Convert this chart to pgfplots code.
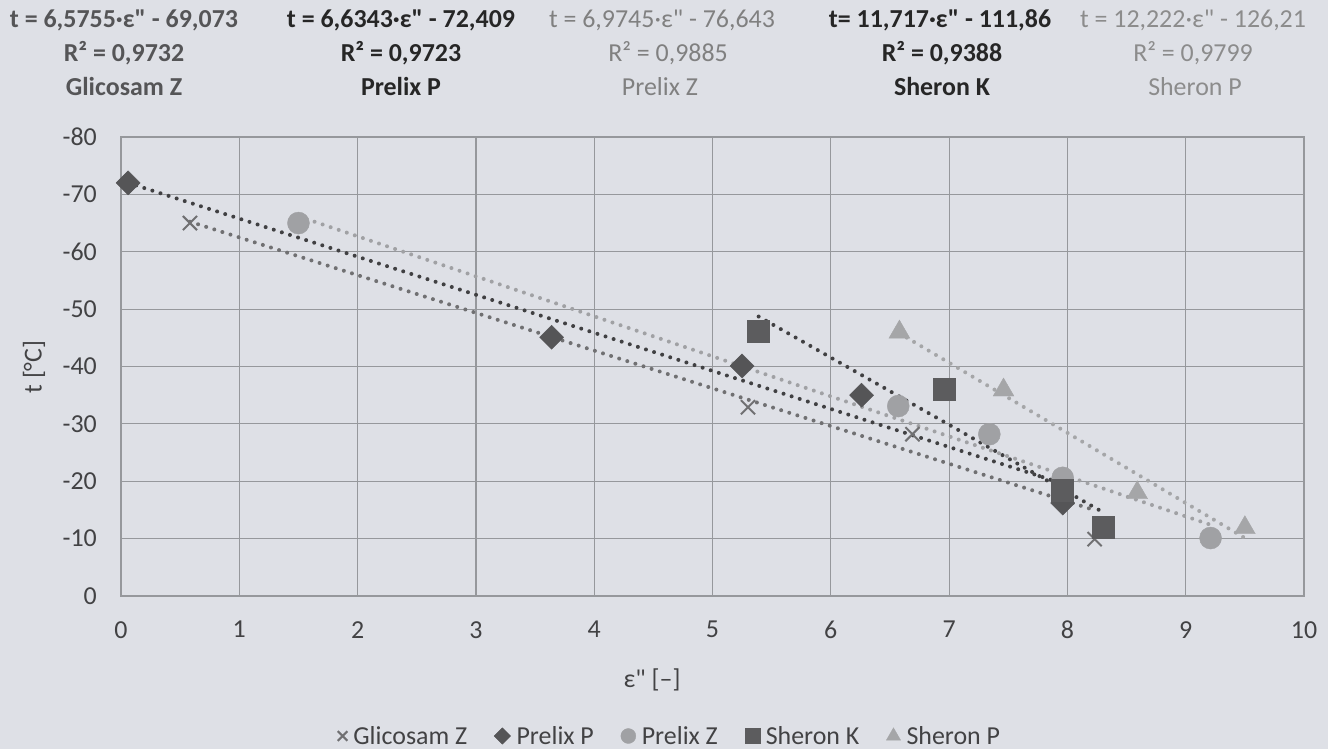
\documentclass[border=0pt]{standalone}
\usepackage{pgfplots}
\pgfplotsset{compat=1.18}
\usepackage{fontspec}
\setmainfont{Carlito}[Ligatures=TeXOff]
\definecolor{bg}{RGB}{222,224,230}
\definecolor{gridc}{RGB}{150,152,156}
\definecolor{tickc}{RGB}{66,66,68}
\definecolor{cGZ}{RGB}{112,112,114}
\definecolor{cPP}{RGB}{85,85,87}
\definecolor{cPZ}{RGB}{160,161,164}
\definecolor{cSK}{RGB}{92,92,94}
\definecolor{cSP}{RGB}{165,166,168}
\definecolor{tPP}{RGB}{64,64,66}
\newcommand{\fs}{\fontsize{26}{30}\selectfont}
\begin{document}
\begin{tikzpicture}[x=1bp,y=1bp]
\fill[bg] (0,0) rectangle (1328,749);
\begin{axis}[at={(121bp,153bp)}, anchor=south west, width=1183bp, height=459bp, scale only axis,
  xmin=0, xmax=10, ymin=-80, ymax=0, y dir=reverse,
  xtick={0,1,2,3,4,5,6,7,8,9,10}, xticklabels={0,1,2,3,4,5,6,7,8,9,10},
  ytick={-80,-70,-60,-50,-40,-30,-20,-10,0}, yticklabels={-80,-70,-60,-50,-40,-30,-20,-10,0},
  major tick length=0pt,
  grid=major, grid style={color=gridc, line width=1.2bp},
  axis line style={color=gridc, line width=1.2bp},
  ticklabel style={font=\fs, text=tickc},
  yticklabel style={anchor=east, inner sep=0pt, xshift=-24bp},
  xticklabel style={anchor=north, inner sep=0pt, yshift=-25bp},
  legend columns=5,
  legend style={draw=none, fill=none, font=\fs, text=tickc, at={(axis description cs:0.464,-0.305)}, anchor=center,
    /tikz/every even column/.append style={column sep=25bp},
    /tikz/every odd column/.append style={column sep=4bp}},
  legend image code/.code={\draw[mark repeat=2,mark phase=2,every mark/.append style={scale=0.68}] plot coordinates {(0bp,0bp)(8bp,0bp)(16bp,0bp)};},
  trend/.style={forget plot, no marks, line width=4bp, line cap=round, dash pattern=on 0bp off 8.5bp},
]
% trendlines
\addplot[trend, color=cGZ] coordinates {(0.583,-65.24) (8.23,-14.96)};
\addplot[trend, color=tPP] coordinates {(0.06,-72.01) (7.96,-19.60)};
\addplot[trend, color=cPZ] coordinates {(1.50,-66.18) (9.21,-12.41)};
\addplot[trend, color=tPP] coordinates {(5.39,-48.71) (8.30,-14.61)};
\addplot[trend, color=cSP] coordinates {(6.58,-45.79) (9.50,-10.10)};
% data
\addplot[only marks, mark=x, mark size=10bp, color=cGZ, line width=2bp] coordinates {(0.583,-65.0) (5.30,-32.9) (6.69,-28.2) (8.23,-9.9)};
\addlegendentry{Glicosam Z}
\addplot[only marks, mark=square*, mark size=8.5bp, mark options={rotate=45}, color=cPP] coordinates {(0.06,-72.0) (3.64,-45.1) (5.25,-40.1) (6.26,-35.0) (7.96,-16.2)};
\addlegendentry{Prelix P}
\addplot[only marks, mark=*, mark size=11bp, color=cPZ] coordinates {(1.50,-65.0) (6.57,-33.1) (7.34,-28.2) (7.96,-20.6) (9.21,-10.1)};
\addlegendentry{Prelix Z}
\addplot[only marks, mark=square*, mark size=11bp, color=cSK] coordinates {(5.39,-46.2) (6.96,-36.1) (7.96,-18.5) (8.30,-12.0)};
\addlegendentry{Sheron K}
\addplot[only marks, mark=triangle*, mark size=12bp, color=cSP] coordinates {(6.58,-46.0) (7.46,-35.9) (8.59,-18.0) (9.50,-11.9)};
\addlegendentry{Sheron P}
\end{axis}
% axis labels
\node[font=\fs, text=tickc, rotate=90] at (34,382) {t [°C]};
\node[font=\fs, text=tickc] at (652,69) {ε" [–]};
% equation texts
\begin{scope}[every node/.style={font=\fs, inner sep=0pt}]
\node[text=cPP, font=\fs\bfseries] at (124,729) {t = 6,5755·ε" - 69,073};
\node[text=cPP, font=\fs\bfseries] at (124,696) {R² = 0,9732};
\node[text=cPP, font=\fs\bfseries] at (124,662) {Glicosam Z};
\node[text=black!85, font=\fs\bfseries] at (401,729) {t = 6,6343·ε"  - 72,409};
\node[text=black!85, font=\fs\bfseries] at (401,696) {R² = 0,9723};
\node[text=black!85, font=\fs\bfseries] at (401,662) {Prelix P};
\node[text=black!50] at (662,729) {t = 6,9745·ε"  - 76,643};
\node[text=black!50] at (668,696) {R² = 0,9885};
\node[text=black!50] at (660,662) {Prelix Z};
\node[text=black!85, font=\fs\bfseries] at (940,729) {t= 11,717·ε" - 111,86};
\node[text=black!85, font=\fs\bfseries] at (942,696) {R² = 0,9388};
\node[text=black!85, font=\fs\bfseries] at (942,662) {Sheron K};
\node[text=black!45] at (1193,729) {t = 12,222·ε"  - 126,21};
\node[text=black!45] at (1193,696) {R² = 0,9799};
\node[text=black!45] at (1195,662) {Sheron P};
\end{scope}
\end{tikzpicture}
\end{document}
